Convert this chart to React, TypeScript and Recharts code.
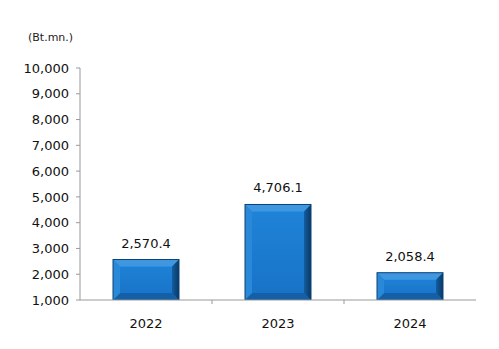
import React from 'react';
import { BarChart, Bar, XAxis, YAxis, LabelList } from 'recharts';

const years = ['2022', '2023', '2024'];
const values = [2570.4, 4706.1, 2058.4];
const yTicks = [1000, 2000, 3000, 4000, 5000, 6000, 7000, 8000, 9000, 10000];

const data = years.map((year, i) => ({ year, value: values[i] }));

const fmt = (v: number) => v.toLocaleString('en-US');
const fmt1 = (v: number) =>
  v.toLocaleString('en-US', { minimumFractionDigits: 1, maximumFractionDigits: 1 });

// bevelled bar like the old office 3D style
const BevelBar = (props: any) => {
  const { x, y, width, height } = props;
  if (!height || height <= 0) return null;
  const b = Math.min(7, height / 3, width / 3);
  return (
    <g>
      <rect x={x} y={y} width={width} height={height} fill="url(#face)" />
      <polygon points={`${x},${y} ${x + width},${y} ${x + width - b},${y + b} ${x + b},${y + b}`} fill="#3f97e2" />
      <polygon points={`${x},${y + height} ${x + width},${y + height} ${x + width - b},${y + height - b} ${x + b},${y + height - b}`} fill="#135fa8" />
      <polygon points={`${x},${y} ${x + b},${y + b} ${x + b},${y + height - b} ${x},${y + height}`} fill="#2a88d8" />
      <polygon points={`${x + width},${y} ${x + width - b},${y + b} ${x + width - b},${y + height - b} ${x + width},${y + height}`} fill="url(#right)" />
      <rect x={x} y={y} width={width} height={height} fill="none" stroke="#0d4275" strokeWidth={1} />
    </g>
  );
};

const XTick = (props: any) => {
  const { x, y, payload, index } = props;
  const half = 66;
  return (
    <g>
      <text x={x} y={y + 20} textAnchor="middle" fontSize={13} fill="#111">
        {payload.value}
      </text>
      {index < years.length - 1 && (
        <line x1={x + half} y1={y - 8} x2={x + half} y2={y - 4} stroke="#999" />
      )}
    </g>
  );
};

export default function App() {
  return (
    <div style={{ position: 'absolute', left: 0, top: 0, width: 499, height: 349, fontFamily: '"DejaVu Sans", Verdana, sans-serif' }}>
      <div style={{ position: 'absolute', left: 28, top: 31, fontSize: 11, color: '#222' }}>(Bt.mn.)</div>
      <BarChart width={499} height={349} data={data} margin={{ top: 68, right: 23, bottom: 19, left: 0 }} barCategoryGap="25%">
        <defs>
          <linearGradient id="face" x1="0" y1="0" x2="0" y2="1">
            <stop offset="0%" stopColor="#1f84d8" />
            <stop offset="100%" stopColor="#1872c6" />
          </linearGradient>
          <linearGradient id="right" x1="0" y1="0" x2="1" y2="0">
            <stop offset="0%" stopColor="#135d9f" />
            <stop offset="100%" stopColor="#0a3966" />
          </linearGradient>
        </defs>
        <YAxis
          type="number"
          domain={[1000, 10000]}
          ticks={yTicks}
          tickFormatter={fmt}
          width={80}
          interval={0}
          axisLine={{ stroke: '#999' }}
          tickLine={{ stroke: '#999' }}
          tickSize={4}
          tickMargin={7}
          tick={{ fontSize: 13, fill: '#111' }}
          allowDataOverflow
        />
        <XAxis
          dataKey="year"
          height={30}
          axisLine={{ stroke: '#999' }}
          tickLine={false}
          tick={<XTick />}
        />
        <Bar dataKey="value" shape={<BevelBar />} isAnimationActive={false}>
          <LabelList dataKey="value" position="top" offset={12} formatter={fmt1} style={{ fontSize: 13, fill: '#111' }} />
        </Bar>
      </BarChart>
    </div>
  );
}
